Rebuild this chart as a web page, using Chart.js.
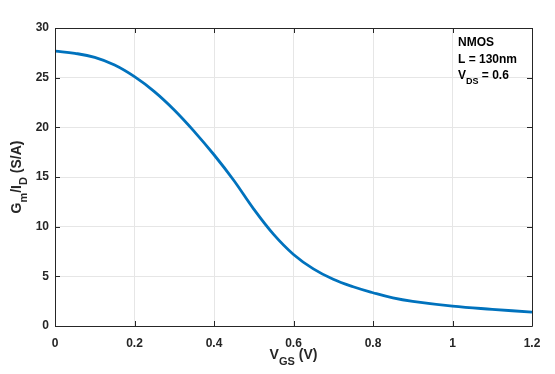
<!DOCTYPE html>
<html>
<head>
<meta charset="utf-8">
<script src="https://cdn.jsdelivr.net/npm/chart.js@4"></script>
<style>
  html, body { margin: 0; padding: 0; background: #fff; }
  #wrap { width: 555px; height: 374px; }
</style>
</head>
<body>
<div id="wrap"><canvas id="gmChart" width="555" height="374"></canvas></div>
<script>
// values
const vgs = [0, 0.05, 0.1, 0.15, 0.2, 0.25, 0.3, 0.35, 0.4, 0.45, 0.5, 0.55, 0.6, 0.65, 0.7, 0.75, 0.8, 0.85, 0.9, 1.0, 1.1, 1.2];
const gmId = [27.68, 27.45, 27.04, 26.27, 25.1, 23.6, 21.75, 19.6, 17.24, 14.65, 11.77, 9.22, 7.2, 5.75, 4.7, 3.95, 3.35, 2.83, 2.48, 2.0, 1.68, 1.4];
const xTicks = [0, 0.2, 0.4, 0.6, 0.8, 1, 1.2];
const yTicks = [0, 5, 10, 15, 20, 25, 30];
const noteLines = ['NMOS', 'L = 130nm'];

const FONT = '"Liberation Sans", Arial, sans-serif';
const TXT = '#262626';

// draw text with a subscript part: parts = [[text, isSub], ...]
function drawSubText(ctx, parts, x, y, size, align) {
    ctx.font = 'bold ' + size + 'px ' + FONT;
    const subSize = Math.round(size * 0.75);
    let total = 0;
    parts.forEach(p => {
        ctx.font = 'bold ' + (p[1] ? subSize : size) + 'px ' + FONT;
        total += ctx.measureText(p[0]).width;
    });
    let cx = align === 'center' ? x - total / 2 : x;
    ctx.textAlign = 'left';
    ctx.textBaseline = 'alphabetic';
    parts.forEach(p => {
        ctx.font = 'bold ' + (p[1] ? subSize : size) + 'px ' + FONT;
        ctx.fillText(p[0], cx, p[1] ? y + size * 0.4 : y);
        cx += ctx.measureText(p[0]).width;
    });
}

const boxPlugin = {
    id: 'box',
    afterDatasetsDraw(chart) {
        const ctx = chart.ctx;
        const a = chart.chartArea;
        const xs = chart.scales.x, ys = chart.scales.y;
        ctx.save();
        ctx.strokeStyle = TXT;
        ctx.lineWidth = 1;
        ctx.beginPath();
        ctx.rect(Math.round(a.left) + 0.5, Math.round(a.top) + 0.5, Math.round(a.right - a.left), Math.round(a.bottom - a.top));
        // inner tick marks on all four sides
        xTicks.forEach(v => {
            const px = Math.round(xs.getPixelForValue(v)) + 0.5;
            ctx.moveTo(px, a.bottom); ctx.lineTo(px, a.bottom - 5);
            ctx.moveTo(px, a.top); ctx.lineTo(px, a.top + 5);
        });
        yTicks.forEach(v => {
            const py = Math.round(ys.getPixelForValue(v)) + 0.5;
            ctx.moveTo(a.left, py); ctx.lineTo(a.left + 5, py);
            ctx.moveTo(a.right, py); ctx.lineTo(a.right - 5, py);
        });
        ctx.stroke();

        ctx.fillStyle = TXT;
        // axis titles
        drawSubText(ctx, [['V', false], ['GS', true], [' (V)', false]], (a.left + a.right) / 2, 359, 14, 'center');
        ctx.save();
        ctx.translate(21, (a.top + a.bottom) / 2);
        ctx.rotate(-Math.PI / 2);
        drawSubText(ctx, [['G', false], ['m', true], ['/I', false], ['D', true], [' (S/A)', false]], 0, 0, 14, 'center');
        ctx.restore();

        // annotation
        ctx.fillStyle = '#000';
        ctx.font = 'bold 12px ' + FONT;
        ctx.textAlign = 'left';
        noteLines.forEach((t, i) => ctx.fillText(t, 458, 46 + i * 16.5));
        drawSubText(ctx, [['V', false], ['DS', true], [' = 0.6', false]], 458, 79, 12, 'left');
        ctx.restore();
    }
};

new Chart(document.getElementById('gmChart').getContext('2d'), {
    type: 'line',
    data: {
        datasets: [{
            data: vgs.map((v, i) => ({ x: v, y: gmId[i] })),
            borderColor: '#0072BD',
            borderWidth: 2.8,
            pointRadius: 0,
            fill: false,
            tension: 0.4
        }]
    },
    options: {
        responsive: false,
        animation: false,
        layout: { padding: { left: 0, top: 28, right: 23, bottom: 0 } },
        plugins: { legend: { display: false }, tooltip: { enabled: false } },
        scales: {
            x: {
                type: 'linear',
                min: 0, max: 1.2,
                afterBuildTicks: s => { s.ticks = xTicks.map(v => ({ value: v })); },
                afterFit: s => { s.height = 48; },
                grid: { color: '#e6e6e6', drawTicks: false },
                border: { display: false },
                ticks: {
                    padding: 10,
                    color: TXT,
                    font: { family: FONT, size: 12, weight: 'bold' },
                    maxRotation: 0,
                    callback: v => String(v)
                }
            },
            y: {
                min: 0, max: 30,
                afterBuildTicks: s => { s.ticks = yTicks.map(v => ({ value: v })); },
                afterFit: s => { s.width = 55; },
                grid: { color: '#e6e6e6', drawTicks: false },
                border: { display: false },
                ticks: {
                    padding: 6,
                    color: TXT,
                    font: { family: FONT, size: 12, weight: 'bold' }
                }
            }
        }
    },
    plugins: [boxPlugin]
});
</script>
</body>
</html>
